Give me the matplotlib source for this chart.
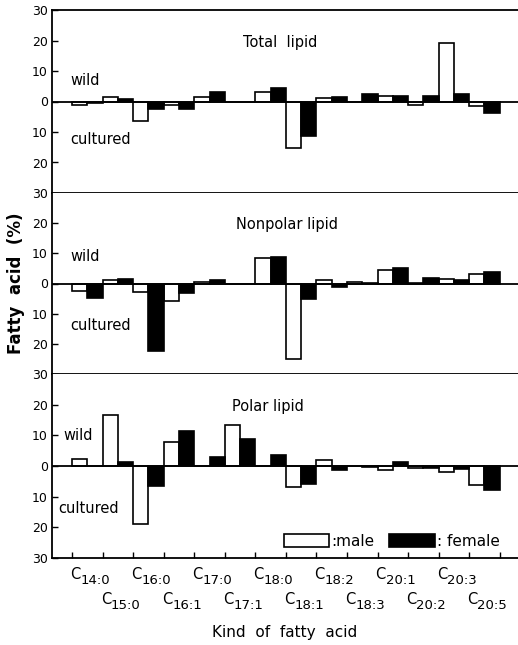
import matplotlib
matplotlib.use("Agg")
import matplotlib.pyplot as plt
from matplotlib.patches import Patch
import numpy as np

# fatty acid differences (wild - cultured), %
acids = ["14:0", "15:0", "16:0", "16:1", "17:0", "17:1", "18:0",
         "18:1", "18:2", "18:3", "20:1", "20:2", "20:3", "20:5"]

total_male = [-1.1, 1.6, -6.3, -1.1, 1.6, 0.0, 3.0, -15.3, 1.2, 0.0, 1.7, -1.2, 19.3, -1.4]
total_female = [-0.6, 0.9, -2.5, -2.5, 3.0, 0.0, 4.3, -11.3, 1.5, 2.4, 1.9, 1.7, 2.6, -3.7]
nonpolar_male = [-2.4, 1.1, -2.7, -5.8, 0.5, 0.0, 8.4, -24.9, 1.0, 0.6, 4.5, 0.1, 1.5, 3.1]
nonpolar_female = [-4.8, 1.6, -22.3, -3.2, 1.1, 0.0, 8.9, -5.0, -1.2, 0.2, 5.3, 1.8, 1.2, 3.8]
polar_male = [2.2, 16.5, -18.8, 7.7, 0.0, 13.4, 0.0, -6.8, 1.8, 0.0, -1.4, -0.5, -1.8, -6.3]
polar_female = [0.0, 1.4, -6.6, 11.5, 2.8, 8.7, 3.6, -6.0, -1.2, -0.2, 1.2, -0.8, -1.0, -7.8]

panels = [("Total  lipid", total_male, total_female),
          ("Nonpolar lipid", nonpolar_male, nonpolar_female),
          ("Polar lipid", polar_male, polar_female)]
title_x = [6.8, 7.05, 6.4]
wild_pos = [(-0.05, 7), (-0.05, 9), (-0.3, 10)]
cult_pos = [(-0.05, -12.5), (-0.05, -14), (-0.45, -14)]

fig = plt.figure(figsize=(5.18, 6.45), dpi=100)
left, right = 52 / 518, 1.0
tops = [10, 193, 374]
bots = [193, 374, 558]

x = np.arange(len(acids))
axes = []
for k, (name, male, female) in enumerate(panels):
    y0 = 1 - bots[k] / 645
    h = (bots[k] - tops[k]) / 645
    ax = fig.add_axes([left, y0, right - left, h])
    axes.append(ax)
    ax.bar(x + 0.25, male, width=0.5, color="white", edgecolor="black", linewidth=1.2)
    ax.bar(x + 0.75, female, width=0.5, color="black", edgecolor="black", linewidth=1.2)
    ax.axhline(0, color="black", lw=1.3)
    ax.set_xlim(-0.66, 14.6)
    ax.set_ylim(-30, 30)
    ticks = [30, 20, 10, 0, -10, -20, -30] if k == 0 else [20, 10, 0, -10, -20, -30]
    ax.set_yticks(ticks)
    ax.set_yticklabels([str(abs(t)) for t in ticks], fontsize=9)
    ax.tick_params(axis="y", direction="in", length=4, width=1, pad=3)
    ax.spines["right"].set_visible(False)
    if k > 0:
        ax.spines["top"].set_visible(False)
    for s in ["left", "top", "bottom"]:
        ax.spines[s].set_linewidth(1.3)
    ax.text(title_x[k], 19.5, name, ha="center", va="center", fontsize=10.5)
    ax.text(wild_pos[k][0], wild_pos[k][1], "wild", ha="left", va="center", fontsize=10.5)
    ax.text(cult_pos[k][0], cult_pos[k][1], "cultured", ha="left", va="center", fontsize=10.5)
    if k < 2:
        ax.set_xticks([])
    else:
        ax.set_xticks(np.arange(15))
        ax.set_xticklabels([])
        ax.tick_params(axis="x", direction="in", length=4, width=1)

bax = axes[2]
for i, a in enumerate(acids):
    off = -12 if i % 2 == 0 else -30
    bax.annotate("C", xy=(i + 0.5, 0), xycoords=("data", "axes fraction"),
                 xytext=(-5, off), textcoords="offset points", ha="right", va="center", fontsize=10.5)
    bax.annotate(a, xy=(i + 0.5, 0), xycoords=("data", "axes fraction"),
                 xytext=(-5, off - 4), textcoords="offset points", ha="left", va="center", fontsize=9.5)

handles = [Patch(facecolor="white", edgecolor="black", lw=1.2),
           Patch(facecolor="black", edgecolor="black", lw=1.2)]
bax.legend(handles, [":male", ": female"], loc="lower right", bbox_to_anchor=(0.98, 0.0),
           ncol=2, frameon=False, handlelength=3.0, handleheight=0.9, handletextpad=0.1,
           columnspacing=1.0, fontsize=11, borderaxespad=0.2)

fig.text(0.03, 1 - 283 / 645, "Fatty  acid  (%)", rotation=90, ha="center", va="center",
         fontsize=12, fontweight="bold")
fig.text(285 / 518, 1 - 633 / 645, "Kind  of  fatty  acid", ha="center", va="center", fontsize=11)

fig.savefig("out.png", dpi=100)
